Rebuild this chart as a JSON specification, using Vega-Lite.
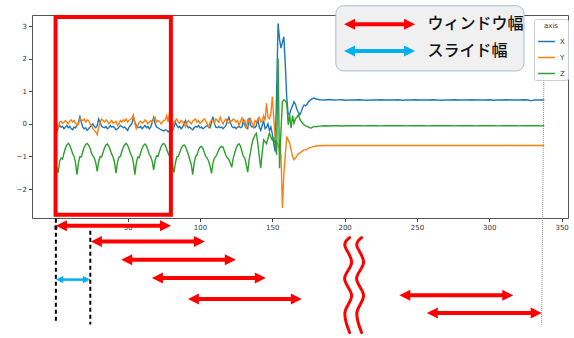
{
  "$schema": "https://vega.github.io/schema/vega-lite/v6.json",
  "width": 536,
  "height": 203,
  "autosize": {"type": "none"},
  "padding": {"left": 32, "top": 15, "right": 6, "bottom": 120},
  "config": {
    "view": {"stroke": "#555", "strokeWidth": 1},
    "font": "DejaVu Sans",
    "axis": {"grid": false, "domain": false, "tickColor": "#444", "tickSize": 3.5, "labelFontSize": 7, "labelColor": "#333", "labelFont": "DejaVu Sans", "labelPadding": 2, "title": null}
  },
  "datasets": {
    "series": [
      {"t":0,"X":-0.22,"Y":0.33,"Z":-1.2},{"t":1,"X":-0.25,"Y":0.0,"Z":-1.35},{"t":2,"X":-0.12,"Y":-0.12,"Z":-1.5},{"t":3,"X":-0.05,"Y":0.05,"Z":-1.15},{"t":4,"X":-0.1,"Y":0.08,"Z":-1.05},{"t":5,"X":-0.08,"Y":0.02,"Z":-1.08},{"t":6,"X":-0.15,"Y":0.05,"Z":-0.9},{"t":7,"X":-0.1,"Y":0.1,"Z":-0.75},{"t":8,"X":-0.05,"Y":0.05,"Z":-0.65},{"t":9,"X":-0.12,"Y":0.0,"Z":-0.6},
      {"t":10,"X":-0.08,"Y":0.08,"Z":-0.66},{"t":11,"X":-0.15,"Y":0.12,"Z":-0.78},{"t":12,"X":-0.18,"Y":0.05,"Z":-0.92},{"t":13,"X":-0.1,"Y":0.1,"Z":-1.0},{"t":14,"X":-0.12,"Y":0.02,"Z":-1.2},{"t":15,"X":-0.05,"Y":-0.05,"Z":-1.56},{"t":16,"X":0.05,"Y":0.0,"Z":-1.2},{"t":17,"X":0.22,"Y":0.15,"Z":-1.0},{"t":18,"X":0.05,"Y":0.12,"Z":-1.02},{"t":19,"X":-0.1,"Y":0.1,"Z":-0.85},
      {"t":20,"X":-0.15,"Y":0.15,"Z":-0.72},{"t":21,"X":-0.12,"Y":0.05,"Z":-0.63},{"t":22,"X":-0.2,"Y":0.12,"Z":-0.6},{"t":23,"X":-0.15,"Y":0.1,"Z":-0.65},{"t":24,"X":-0.1,"Y":0.0,"Z":-0.75},{"t":25,"X":-0.05,"Y":-0.05,"Z":-0.9},{"t":26,"X":0.0,"Y":-0.15,"Z":-0.98},{"t":27,"X":-0.08,"Y":-0.2,"Z":-1.05},{"t":28,"X":-0.12,"Y":-0.25,"Z":-1.2},{"t":29,"X":-0.05,"Y":-0.34,"Z":-1.46},
      {"t":30,"X":0.15,"Y":-0.1,"Z":-1.15},{"t":31,"X":0.05,"Y":0.05,"Z":-1.0},{"t":32,"X":-0.08,"Y":0.15,"Z":-1.02},{"t":33,"X":-0.1,"Y":0.1,"Z":-0.88},{"t":34,"X":-0.12,"Y":0.05,"Z":-0.74},{"t":35,"X":-0.08,"Y":0.12,"Z":-0.65},{"t":36,"X":-0.15,"Y":0.08,"Z":-0.62},{"t":37,"X":-0.12,"Y":0.0,"Z":-0.68},{"t":38,"X":-0.05,"Y":0.05,"Z":-0.8},{"t":39,"X":-0.1,"Y":0.1,"Z":-0.93},
      {"t":40,"X":-0.08,"Y":0.02,"Z":-1.02},{"t":41,"X":-0.12,"Y":0.05,"Z":-1.2},{"t":42,"X":-0.18,"Y":0.08,"Z":-1.51},{"t":43,"X":-0.15,"Y":-0.05,"Z":-1.18},{"t":44,"X":-0.1,"Y":0.0,"Z":-1.02},{"t":45,"X":-0.05,"Y":0.1,"Z":-1.0},{"t":46,"X":-0.08,"Y":0.05,"Z":-0.85},{"t":47,"X":-0.12,"Y":0.12,"Z":-0.72},{"t":48,"X":-0.1,"Y":0.08,"Z":-0.64},{"t":49,"X":-0.15,"Y":0.15,"Z":-0.6},
      {"t":50,"X":-0.2,"Y":0.05,"Z":-0.66},{"t":51,"X":-0.1,"Y":0.1,"Z":-0.78},{"t":52,"X":-0.05,"Y":0.15,"Z":-0.92},{"t":53,"X":0.02,"Y":0.18,"Z":-1.0},{"t":54,"X":0.2,"Y":0.28,"Z":-1.2},{"t":55,"X":0.05,"Y":0.0,"Z":-1.56},{"t":56,"X":-0.05,"Y":-0.15,"Z":-1.2},{"t":57,"X":-0.1,"Y":-0.05,"Z":-1.02},{"t":58,"X":-0.12,"Y":0.05,"Z":-1.04},{"t":59,"X":-0.08,"Y":0.08,"Z":-0.88},
      {"t":60,"X":-0.15,"Y":0.02,"Z":-0.75},{"t":61,"X":-0.1,"Y":0.05,"Z":-0.66},{"t":62,"X":-0.05,"Y":0.12,"Z":-0.62},{"t":63,"X":-0.12,"Y":0.08,"Z":-0.67},{"t":64,"X":-0.08,"Y":0.0,"Z":-0.8},{"t":65,"X":-0.15,"Y":0.05,"Z":-0.94},{"t":66,"X":-0.1,"Y":0.1,"Z":-1.02},{"t":67,"X":0.05,"Y":0.05,"Z":-1.15},{"t":68,"X":0.2,"Y":0.15,"Z":-1.41},{"t":69,"X":0.02,"Y":0.2,"Z":-1.12},
      {"t":70,"X":-0.1,"Y":0.05,"Z":-0.98},{"t":71,"X":-0.12,"Y":0.1,"Z":-1.0},{"t":72,"X":-0.15,"Y":0.08,"Z":-0.85},{"t":73,"X":-0.18,"Y":0.0,"Z":-0.72},{"t":74,"X":-0.2,"Y":0.05,"Z":-0.63},{"t":75,"X":-0.22,"Y":0.1,"Z":-0.6},{"t":76,"X":-0.18,"Y":0.12,"Z":-0.66},{"t":77,"X":-0.2,"Y":0.25,"Z":-0.78},{"t":78,"X":-0.25,"Y":0.05,"Z":-0.9},{"t":79,"X":-0.2,"Y":0.35,"Z":-1.0},
      {"t":80,"X":-0.15,"Y":0.05,"Z":-1.1},{"t":81,"X":-0.22,"Y":-0.15,"Z":-1.25},{"t":82,"X":-0.1,"Y":0.05,"Z":-1.5},{"t":83,"X":0.05,"Y":0.1,"Z":-1.2},{"t":84,"X":-0.05,"Y":0.15,"Z":-1.02},{"t":85,"X":-0.12,"Y":0.05,"Z":-1.0},{"t":86,"X":-0.08,"Y":0.02,"Z":-0.88},{"t":87,"X":-0.15,"Y":0.1,"Z":-0.76},{"t":88,"X":-0.1,"Y":0.08,"Z":-0.68},{"t":89,"X":0.0,"Y":0.0,"Z":-0.65},
      {"t":90,"X":0.1,"Y":-0.1,"Z":-0.7},{"t":91,"X":-0.05,"Y":0.05,"Z":-0.82},{"t":92,"X":-0.12,"Y":0.1,"Z":-0.95},{"t":93,"X":-0.1,"Y":0.05,"Z":-1.1},{"t":94,"X":-0.15,"Y":0.0,"Z":-1.25},{"t":95,"X":-0.18,"Y":0.08,"Z":-1.56},{"t":96,"X":-0.12,"Y":0.12,"Z":-1.2},{"t":97,"X":-0.08,"Y":0.15,"Z":-1.0},{"t":98,"X":-0.1,"Y":0.05,"Z":-0.95},{"t":99,"X":-0.05,"Y":0.1,"Z":-0.8},
      {"t":100,"X":-0.12,"Y":0.02,"Z":-0.72},{"t":101,"X":-0.1,"Y":0.05,"Z":-0.69},{"t":102,"X":-0.15,"Y":0.1,"Z":-0.75},{"t":103,"X":-0.12,"Y":0.15,"Z":-0.88},{"t":104,"X":-0.08,"Y":0.08,"Z":-1.0},{"t":105,"X":-0.05,"Y":0.0,"Z":-1.05},{"t":106,"X":-0.1,"Y":-0.1,"Z":-1.15},{"t":107,"X":-0.12,"Y":0.05,"Z":-1.3},{"t":108,"X":0.05,"Y":0.12,"Z":-1.52},{"t":109,"X":0.22,"Y":0.1,"Z":-1.2},
      {"t":110,"X":0.0,"Y":0.02,"Z":-1.05},{"t":111,"X":-0.1,"Y":0.15,"Z":-1.0},{"t":112,"X":-0.12,"Y":0.1,"Z":-0.9},{"t":113,"X":-0.08,"Y":0.05,"Z":-0.8},{"t":114,"X":-0.12,"Y":0.2,"Z":-0.72},{"t":115,"X":-0.1,"Y":0.08,"Z":-0.69},{"t":116,"X":-0.15,"Y":0.0,"Z":-0.72},{"t":117,"X":-0.1,"Y":0.1,"Z":-0.85},{"t":118,"X":-0.05,"Y":0.15,"Z":-0.98},{"t":119,"X":0.1,"Y":0.05,"Z":-1.05},
      {"t":120,"X":0.2,"Y":0.02,"Z":-1.1},{"t":121,"X":0.05,"Y":0.1,"Z":-1.2},{"t":122,"X":-0.08,"Y":0.08,"Z":-1.33},{"t":123,"X":-0.12,"Y":0.15,"Z":-1.05},{"t":124,"X":-0.1,"Y":0.12,"Z":-0.9},{"t":125,"X":-0.15,"Y":0.05,"Z":-0.75},{"t":126,"X":-0.1,"Y":0.1,"Z":-0.65},{"t":127,"X":-0.08,"Y":-0.05,"Z":-0.61},{"t":128,"X":-0.12,"Y":0.08,"Z":-0.68},{"t":129,"X":-0.1,"Y":0.18,"Z":-0.85},
      {"t":130,"X":0.1,"Y":0.05,"Z":-1.0},{"t":131,"X":-0.05,"Y":0.1,"Z":-1.05},{"t":132,"X":-0.12,"Y":-0.15,"Z":-1.25},{"t":133,"X":-0.15,"Y":0.12,"Z":-1.48},{"t":134,"X":0.18,"Y":0.05,"Z":-1.1},{"t":135,"X":-0.05,"Y":0.15,"Z":-0.85},{"t":136,"X":-0.1,"Y":0.02,"Z":-0.6},{"t":137,"X":-0.08,"Y":-0.1,"Z":-0.45},{"t":138,"X":-0.12,"Y":0.1,"Z":-0.35},{"t":139,"X":-0.05,"Y":0.05,"Z":-0.29},
      {"t":140,"X":0.15,"Y":0.15,"Z":-0.6},{"t":141,"X":-0.1,"Y":0.2,"Z":-1.0},{"t":142,"X":-0.2,"Y":0.05,"Z":-1.36},{"t":143,"X":-0.05,"Y":0.1,"Z":-0.9},{"t":144,"X":0.1,"Y":0.25,"Z":-0.49},{"t":145,"X":-0.15,"Y":0.1,"Z":-0.55},{"t":146,"X":-0.1,"Y":0.63,"Z":-0.61},{"t":147,"X":0.0,"Y":0.2,"Z":-0.45},{"t":148,"X":-0.2,"Y":0.15,"Z":-0.29},{"t":149,"X":-0.1,"Y":0.3,"Z":-0.4},
      {"t":150,"X":-0.3,"Y":0.84,"Z":-0.5},{"t":151,"X":-0.6,"Y":0.2,"Z":-0.44},{"t":152,"X":-0.85,"Y":-0.44,"Z":-0.6},{"t":153,"X":1.0,"Y":-0.55,"Z":-0.95},{"t":154,"X":3.08,"Y":-0.64,"Z":2.01},{"t":155,"X":2.6,"Y":-0.8,"Z":-1.36},{"t":156,"X":2.32,"Y":-0.95,"Z":-0.2},{"t":157,"X":2.5,"Y":-2.58,"Z":0.68},{"t":158,"X":2.67,"Y":-1.5,"Z":0.74},{"t":159,"X":1.8,"Y":-0.95,"Z":0.7},
      {"t":160,"X":0.79,"Y":-0.39,"Z":0.63},{"t":161,"X":0.28,"Y":-0.5,"Z":-0.03},{"t":162,"X":0.3,"Y":-0.59,"Z":0.28},{"t":163,"X":0.45,"Y":-0.8,"Z":-0.13},{"t":164,"X":0.55,"Y":-1.0,"Z":0.25},{"t":165,"X":0.68,"Y":-1.1,"Z":0.02},{"t":166,"X":0.6,"Y":-1.05,"Z":0.15},{"t":167,"X":0.45,"Y":-0.98,"Z":0.2},{"t":168,"X":0.35,"Y":-0.92,"Z":0.28},{"t":169,"X":0.28,"Y":-0.9,"Z":0.15},
      {"t":170,"X":0.38,"Y":-0.86,"Z":0.07},{"t":171,"X":0.5,"Y":-0.83,"Z":0.02},{"t":172,"X":0.58,"Y":-0.8,"Z":-0.03},{"t":173,"X":0.55,"Y":-0.8,"Z":-0.06},{"t":174,"X":0.6,"Y":-0.78,"Z":-0.08},{"t":175,"X":0.68,"Y":-0.75,"Z":-0.1},{"t":176,"X":0.72,"Y":-0.73,"Z":-0.12},{"t":177,"X":0.75,"Y":-0.72,"Z":-0.13},{"t":178,"X":0.78,"Y":-0.7,"Z":-0.1},{"t":179,"X":0.79,"Y":-0.7,"Z":-0.08},
      {"t":180,"X":0.76,"Y":-0.68,"Z":-0.09},{"t":183,"X":0.74,"Y":-0.67,"Z":-0.07},{"t":186,"X":0.73,"Y":-0.665,"Z":-0.06},{"t":189,"X":0.745,"Y":-0.665,"Z":-0.065},{"t":192,"X":0.73,"Y":-0.66,"Z":-0.06},{"t":195,"X":0.735,"Y":-0.665,"Z":-0.06},{"t":198,"X":0.74,"Y":-0.66,"Z":-0.065},{"t":201,"X":0.725,"Y":-0.665,"Z":-0.06},{"t":204,"X":0.735,"Y":-0.66,"Z":-0.06},{"t":207,"X":0.73,"Y":-0.665,"Z":-0.06},
      {"t":210,"X":0.74,"Y":-0.665,"Z":-0.06},{"t":213,"X":0.73,"Y":-0.66,"Z":-0.062},{"t":216,"X":0.725,"Y":-0.665,"Z":-0.06},{"t":219,"X":0.735,"Y":-0.665,"Z":-0.06},{"t":222,"X":0.73,"Y":-0.66,"Z":-0.06},{"t":225,"X":0.74,"Y":-0.665,"Z":-0.062},{"t":228,"X":0.73,"Y":-0.665,"Z":-0.06},{"t":231,"X":0.735,"Y":-0.66,"Z":-0.06},{"t":234,"X":0.73,"Y":-0.665,"Z":-0.06},{"t":237,"X":0.74,"Y":-0.665,"Z":-0.06},
      {"t":240,"X":0.725,"Y":-0.66,"Z":-0.06},{"t":243,"X":0.735,"Y":-0.665,"Z":-0.062},{"t":246,"X":0.73,"Y":-0.665,"Z":-0.06},{"t":249,"X":0.74,"Y":-0.66,"Z":-0.06},{"t":252,"X":0.73,"Y":-0.665,"Z":-0.06},{"t":255,"X":0.735,"Y":-0.665,"Z":-0.06},{"t":258,"X":0.73,"Y":-0.66,"Z":-0.062},{"t":261,"X":0.74,"Y":-0.665,"Z":-0.06},{"t":264,"X":0.73,"Y":-0.665,"Z":-0.06},{"t":267,"X":0.725,"Y":-0.66,"Z":-0.06},
      {"t":270,"X":0.735,"Y":-0.665,"Z":-0.06},{"t":273,"X":0.73,"Y":-0.665,"Z":-0.06},{"t":276,"X":0.74,"Y":-0.66,"Z":-0.062},{"t":279,"X":0.73,"Y":-0.665,"Z":-0.06},{"t":282,"X":0.735,"Y":-0.665,"Z":-0.06},{"t":285,"X":0.73,"Y":-0.66,"Z":-0.06},{"t":288,"X":0.74,"Y":-0.665,"Z":-0.06},{"t":291,"X":0.73,"Y":-0.665,"Z":-0.062},{"t":294,"X":0.735,"Y":-0.66,"Z":-0.06},{"t":297,"X":0.73,"Y":-0.665,"Z":-0.06},
      {"t":300,"X":0.74,"Y":-0.665,"Z":-0.06},{"t":303,"X":0.725,"Y":-0.66,"Z":-0.06},{"t":306,"X":0.735,"Y":-0.665,"Z":-0.062},{"t":309,"X":0.73,"Y":-0.665,"Z":-0.06},{"t":312,"X":0.74,"Y":-0.66,"Z":-0.06},{"t":315,"X":0.73,"Y":-0.665,"Z":-0.06},{"t":318,"X":0.735,"Y":-0.665,"Z":-0.06},{"t":321,"X":0.73,"Y":-0.66,"Z":-0.062},{"t":324,"X":0.74,"Y":-0.665,"Z":-0.06},{"t":327,"X":0.73,"Y":-0.665,"Z":-0.06},
      {"t":329,"X":0.705,"Y":-0.665,"Z":-0.06},{"t":331,"X":0.735,"Y":-0.66,"Z":-0.06},{"t":334,"X":0.73,"Y":-0.665,"Z":-0.06},{"t":336,"X":0.735,"Y":-0.665,"Z":-0.062},{"t":338,"X":0.73,"Y":-0.665,"Z":-0.06}
    ],
    "arrows": [
      {"kind":"window","xs":0.4,"xe":80,"y":-3.124},
      {"kind":"window","xs":24.6,"xe":103.4,"y":-3.605},
      {"kind":"window","xs":45.6,"xe":124.8,"y":-4.165},
      {"kind":"window","xs":66.8,"xe":145.5,"y":-4.726},
      {"kind":"window","xs":91.7,"xe":170.4,"y":-5.369},
      {"kind":"window","xs":237.8,"xe":316.6,"y":-5.259},
      {"kind":"window","xs":256.8,"xe":336.2,"y":-5.798},
      {"kind":"slide","xs":0.4,"xe":24.2,"y":-4.778},
      {"kind":"window","xs":199.6,"xe":248.7,"y":3.054},
      {"kind":"slidekey","xs":199.6,"xe":248.7,"y":2.236}
    ],
    "keytext": [
      {"label":"ウィンドウ幅","x":257.2,"y":3.047},
      {"label":"スライド幅","x":257.2,"y":2.236}
    ],
    "keybox": [{"x0":193.9,"x1":324.0,"y0":1.623,"y1":3.623}],
    "frame": [{"x0":0.2,"x1":79.9,"y0":-2.787,"y1":3.277}],
    "dashes": [
      {"x":0.4,"y0":-2.91,"y1":-6.126},
      {"x":24.2,"y0":-3.277,"y1":-6.156}
    ],
    "guide": [{"x0":337.8,"y0":1.776,"x1":336.2,"y1":-6.156}],
    "waves": [
      {"w":1,"i":0,"x":203.43,"y":-3.492},{"w":1,"i":1,"x":200.32,"y":-3.767},{"w":1,"i":2,"x":204.81,"y":-4.257},{"w":1,"i":3,"x":199.97,"y":-4.747},{"w":1,"i":4,"x":204.81,"y":-5.253},{"w":1,"i":5,"x":200.32,"y":-5.758},{"w":1,"i":6,"x":203.43,"y":-6.401},
      {"w":2,"i":0,"x":211.71,"y":-3.492},{"w":2,"i":1,"x":208.6,"y":-3.767},{"w":2,"i":2,"x":213.09,"y":-4.257},{"w":2,"i":3,"x":208.26,"y":-4.747},{"w":2,"i":4,"x":213.09,"y":-5.253},{"w":2,"i":5,"x":208.6,"y":-5.758},{"w":2,"i":6,"x":211.71,"y":-6.401}
    ]
  },
  "resolve": {"scale": {"size": "independent"}},
  "layer": [
    {
      "data": {"name": "series"},
      "transform": [{"fold": ["X", "Y", "Z"], "as": ["axis", "v"]}],
      "mark": {"type": "line", "strokeWidth": 1.4},
      "encoding": {
        "x": {"field": "t", "type": "quantitative", "scale": {"domain": [-16.1, 354.4], "nice": false, "zero": false}, "axis": {"values": [0, 50, 100, 150, 200, 250, 300, 350], "title": null}},
        "y": {"field": "v", "type": "quantitative", "scale": {"domain": [-2.888, 3.338], "nice": false, "zero": false}, "axis": {"values": [-2, -1, 0, 1, 2, 3], "title": null}},
        "color": {"field": "axis", "type": "nominal", "scale": {"domain": ["X", "Y", "Z"], "range": ["#1f77b4", "#ff7f0e", "#2ca02c"]},
          "legend": {"title": "axis", "orient": "none", "legendX": 502, "legendY": 4, "titleFontSize": 7, "titleFontWeight": "normal", "titleColor": "#333", "titleAnchor": "middle", "titlePadding": 3, "labelFontSize": 7, "labelColor": "#333", "symbolType": "stroke", "symbolSize": 280, "symbolStrokeWidth": 1.5, "fillColor": "white", "strokeColor": "#ccc", "padding": 3, "cornerRadius": 2, "rowPadding": 3, "labelOffset": 4}}
      }
    },
    {
      "data": {"name": "frame"},
      "mark": {"type": "rect", "filled": false, "stroke": "#ff0000", "strokeWidth": 4},
      "encoding": {
        "x": {"field": "x0", "type": "quantitative"}, "x2": {"field": "x1"},
        "y": {"field": "y0", "type": "quantitative"}, "y2": {"field": "y1"}
      }
    },
    {
      "data": {"name": "guide"},
      "mark": {"type": "rule", "stroke": "#8a8a8a", "strokeWidth": 1, "strokeDash": [1, 1]},
      "encoding": {
        "x": {"field": "x0", "type": "quantitative"}, "x2": {"field": "x1"},
        "y": {"field": "y0", "type": "quantitative"}, "y2": {"field": "y1"}
      }
    },
    {
      "data": {"name": "keybox"},
      "mark": {"type": "rect", "fill": "#f0f0f0", "stroke": "#a9bccd", "strokeWidth": 1, "cornerRadius": 8},
      "encoding": {
        "x": {"field": "x0", "type": "quantitative"}, "x2": {"field": "x1"},
        "y": {"field": "y0", "type": "quantitative"}, "y2": {"field": "y1"}
      }
    },
    {
      "data": {"name": "arrows"},
      "mark": {"type": "rule", "xOffset": 5, "x2Offset": -5},
      "encoding": {
        "x": {"field": "xs", "type": "quantitative"}, "x2": {"field": "xe"},
        "y": {"field": "y", "type": "quantitative"},
        "stroke": {"field": "kind", "type": "nominal", "scale": {"domain": ["window", "slide", "slidekey"], "range": ["#ff0000", "#00b0f0", "#00b0f0"]}, "legend": null},
        "size": {"field": "kind", "type": "nominal", "scale": {"type": "ordinal", "domain": ["window", "slide", "slidekey"], "range": [4, 2.5, 4]}, "legend": null}
      }
    },
    {
      "data": {"name": "arrows"},
      "transform": [{"fold": ["xs", "xe"], "as": ["end", "xp"]}],
      "mark": {"type": "point", "filled": true, "opacity": 1, "strokeWidth": 0},
      "encoding": {
        "x": {"field": "xp", "type": "quantitative"},
        "y": {"field": "y", "type": "quantitative"},
        "shape": {"field": "end", "type": "nominal", "scale": {"domain": ["xs", "xe"], "range": ["M0,0L2,-1L2,1Z", "M0,0L-2,-1L-2,1Z"]}, "legend": null},
        "fill": {"field": "kind", "type": "nominal", "scale": {"domain": ["window", "slide", "slidekey"], "range": ["#ff0000", "#00b0f0", "#00b0f0"]}, "legend": null},
        "size": {"field": "kind", "type": "nominal", "scale": {"type": "ordinal", "domain": ["window", "slide", "slidekey"], "range": [121, 55, 121]}, "legend": null}
      }
    },
    {
      "data": {"name": "keytext"},
      "mark": {"type": "text", "font": "Noto Sans CJK JP", "fontSize": 16, "fontWeight": 500, "align": "left", "baseline": "middle", "color": "#111"},
      "encoding": {
        "x": {"field": "x", "type": "quantitative"},
        "y": {"field": "y", "type": "quantitative"},
        "text": {"field": "label"}
      }
    },
    {
      "data": {"name": "dashes"},
      "mark": {"type": "rule", "stroke": "#000", "strokeWidth": 2, "strokeDash": [4, 3]},
      "encoding": {
        "x": {"field": "x", "type": "quantitative"},
        "y": {"field": "y0", "type": "quantitative"}, "y2": {"field": "y1"}
      }
    },
    {
      "data": {"name": "waves"},
      "mark": {"type": "line", "stroke": "#ff0000", "strokeWidth": 3, "interpolate": "natural", "strokeCap": "round"},
      "encoding": {
        "x": {"field": "x", "type": "quantitative"},
        "y": {"field": "y", "type": "quantitative"},
        "detail": {"field": "w", "type": "nominal"},
        "order": {"field": "i", "type": "quantitative"}
      }
    }
  ]
}
